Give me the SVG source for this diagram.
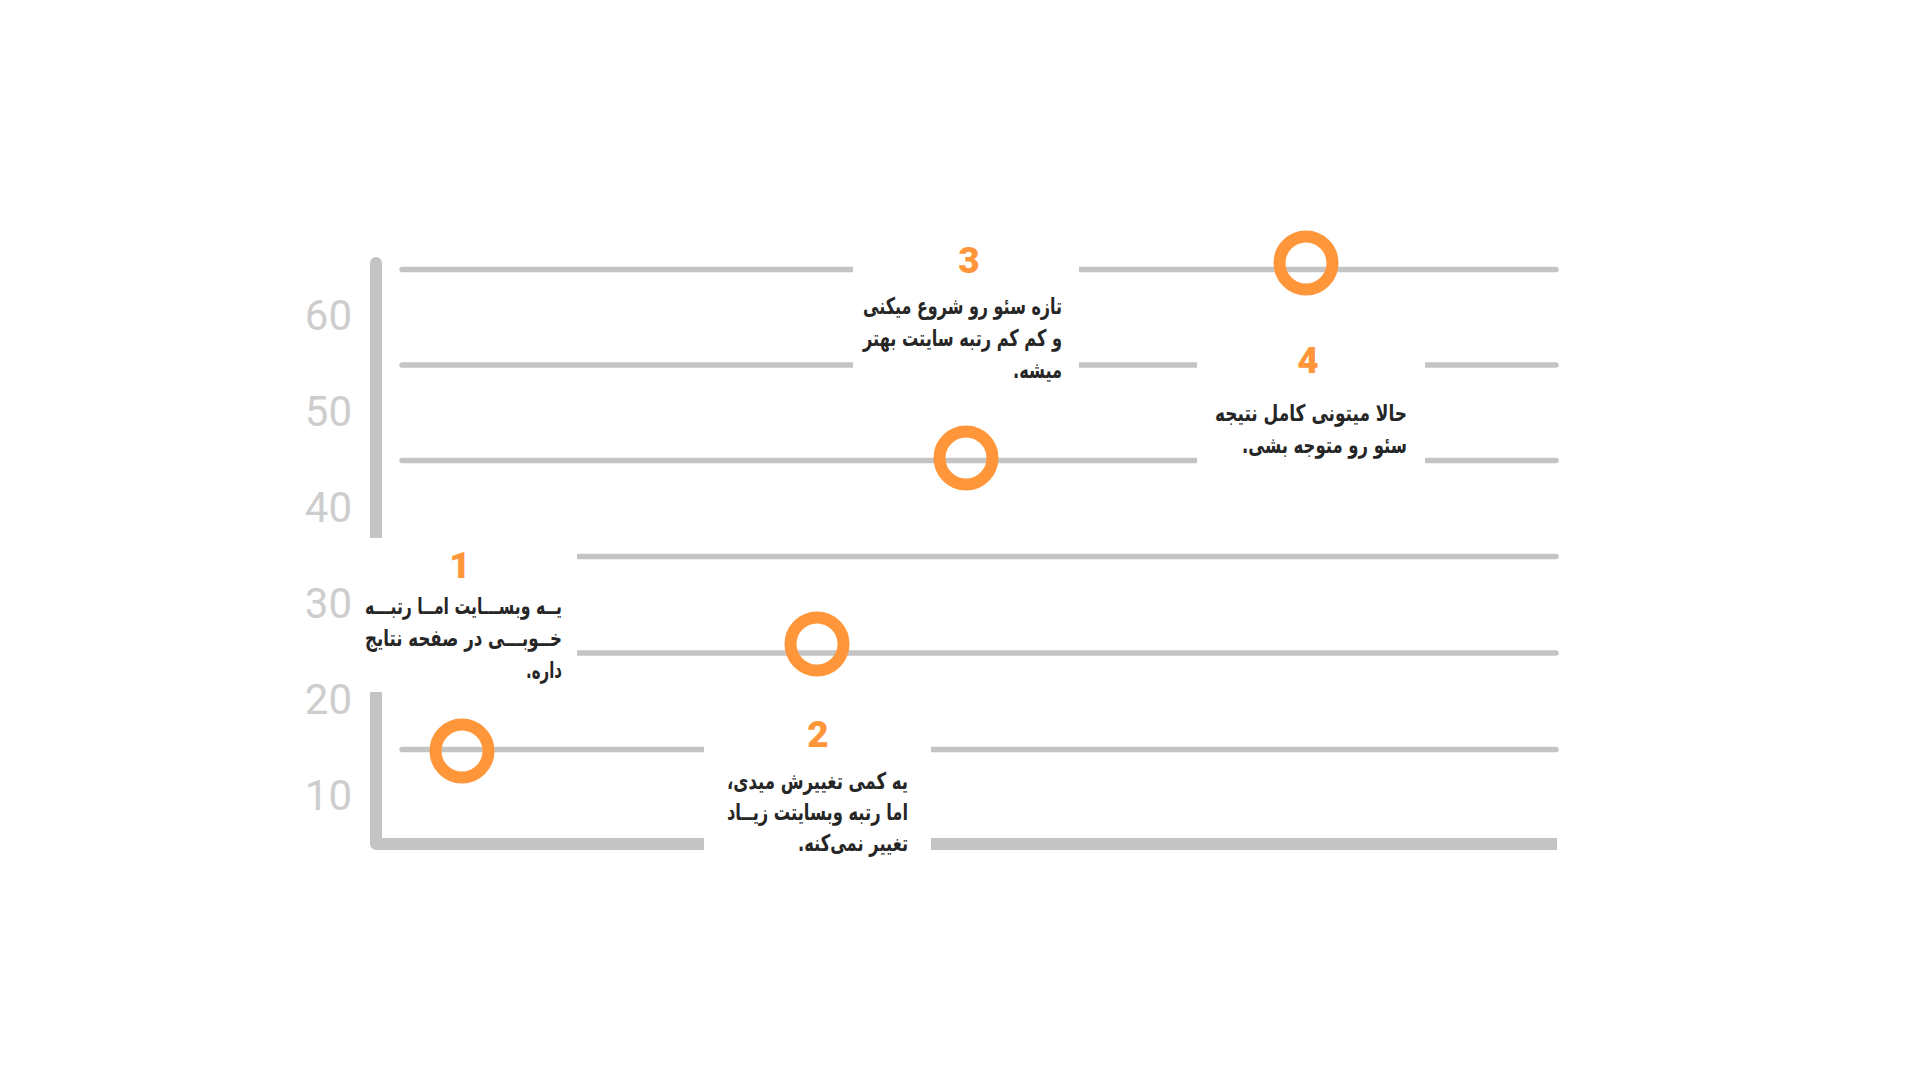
<svg xmlns="http://www.w3.org/2000/svg" width="1920" height="1080" viewBox="0 0 1920 1080">
<style>
.grid{stroke:#c4c4c4;stroke-width:5.5;stroke-linecap:round;fill:none}
.axis{stroke:#c4c4c4;stroke-width:12;fill:none}
.ylab{font-family:Roboto,"Liberation Sans",sans-serif;font-size:42px;fill:#cdcdcd;text-anchor:end}
.bg{fill:#ffffff}
.dot{fill:none;stroke:#ff963a;stroke-width:12}
.num{font-family:Roboto,"Open Sans",sans-serif;font-weight:900;font-size:37px;fill:#ff963a;text-anchor:middle}
.txt{font-family:"DejaVu Sans",sans-serif;font-weight:700;font-size:23px;fill:#262626;direction:rtl;text-anchor:start}
</style>
<defs>
<filter id="soft" x="-5%" y="-50%" width="110%" height="200%"><feGaussianBlur stdDeviation="0.7"/></filter>
</defs>
<rect width="1920" height="1080" fill="#ffffff"/>
<g id="chart-frame" filter="url(#soft)">
<g id="gridlines">
<line class="grid" x1="402" y1="269.5" x2="1556" y2="269.5"/>
<line class="grid" x1="402" y1="365" x2="1556" y2="365"/>
<line class="grid" x1="402" y1="460.5" x2="1556" y2="460.5"/>
<line class="grid" x1="402" y1="556.5" x2="1556" y2="556.5"/>
<line class="grid" x1="402" y1="653" x2="1556" y2="653"/>
<line class="grid" x1="402" y1="749.5" x2="1556" y2="749.5"/>
</g>
<g id="axes">
<path class="axis" d="M376 263 V838"/>
<line x1="376" y1="263" x2="376" y2="270" stroke="#c4c4c4" stroke-width="12" stroke-linecap="round"/>
<path class="axis" d="M376 693 V844 H1557" stroke-linejoin="round"/>
</g>
</g>
<g id="y-labels">
<text class="ylab" x="352" y="330">60</text>
<text class="ylab" x="352" y="426">50</text>
<text class="ylab" x="352" y="522">40</text>
<text class="ylab" x="352" y="618">30</text>
<text class="ylab" x="352" y="714">20</text>
<text class="ylab" x="352" y="810">10</text>
</g>
<g id="connectors"></g>
<g id="step-1">
<rect class="bg" x="360" y="538" width="217" height="154"/>
<text class="num" x="460" y="578">1</text>
<text class="txt" x="562" y="614" textLength="197" lengthAdjust="spacingAndGlyphs">یــه وبســـایت امــا رتبـــه</text>
<text class="txt" x="562" y="646" textLength="197" lengthAdjust="spacingAndGlyphs">خــوبـــی در صفحه نتایج</text>
<text class="txt" x="562" y="678" textLength="36" lengthAdjust="spacingAndGlyphs">داره.</text>
<circle class="dot" cx="462" cy="751" r="26.5"/>
</g>
<g id="step-2">
<rect class="bg" x="704" y="705" width="227" height="155"/>
<text class="num" x="818" y="747">2</text>
<text class="txt" x="908" y="789" textLength="181" lengthAdjust="spacingAndGlyphs">یه کمی تغییرش میدی،</text>
<text class="txt" x="908" y="820" textLength="181" lengthAdjust="spacingAndGlyphs">اما رتبه وبسایتت زیــاد</text>
<text class="txt" x="908" y="851" textLength="110" lengthAdjust="spacingAndGlyphs">تغییر نمی‌کنه.</text>
<circle class="dot" cx="817" cy="644" r="26.5"/>
</g>
<g id="step-3">
<rect class="bg" x="853" y="235" width="226" height="160"/>
<text class="num" x="969" y="273">3</text>
<text class="txt" x="1062" y="314" textLength="199" lengthAdjust="spacingAndGlyphs">تازه سئو رو شروع میکنی</text>
<text class="txt" x="1062" y="346" textLength="199" lengthAdjust="spacingAndGlyphs">و کم کم رتبه سایتت بهتر</text>
<text class="txt" x="1062" y="378" textLength="49" lengthAdjust="spacingAndGlyphs">میشه.</text>
<circle class="dot" cx="966" cy="458" r="26.5"/>
</g>
<g id="step-4">
<rect class="bg" x="1197" y="335" width="228" height="140"/>
<text class="num" x="1308" y="373">4</text>
<text class="txt" x="1407" y="421" textLength="192" lengthAdjust="spacingAndGlyphs">حالا میتونی کامل نتیجه</text>
<text class="txt" x="1407" y="453" textLength="165" lengthAdjust="spacingAndGlyphs">سئو رو متوجه بشی.</text>
<circle class="dot" cx="1306" cy="263" r="26.5"/>
</g>
</svg>
